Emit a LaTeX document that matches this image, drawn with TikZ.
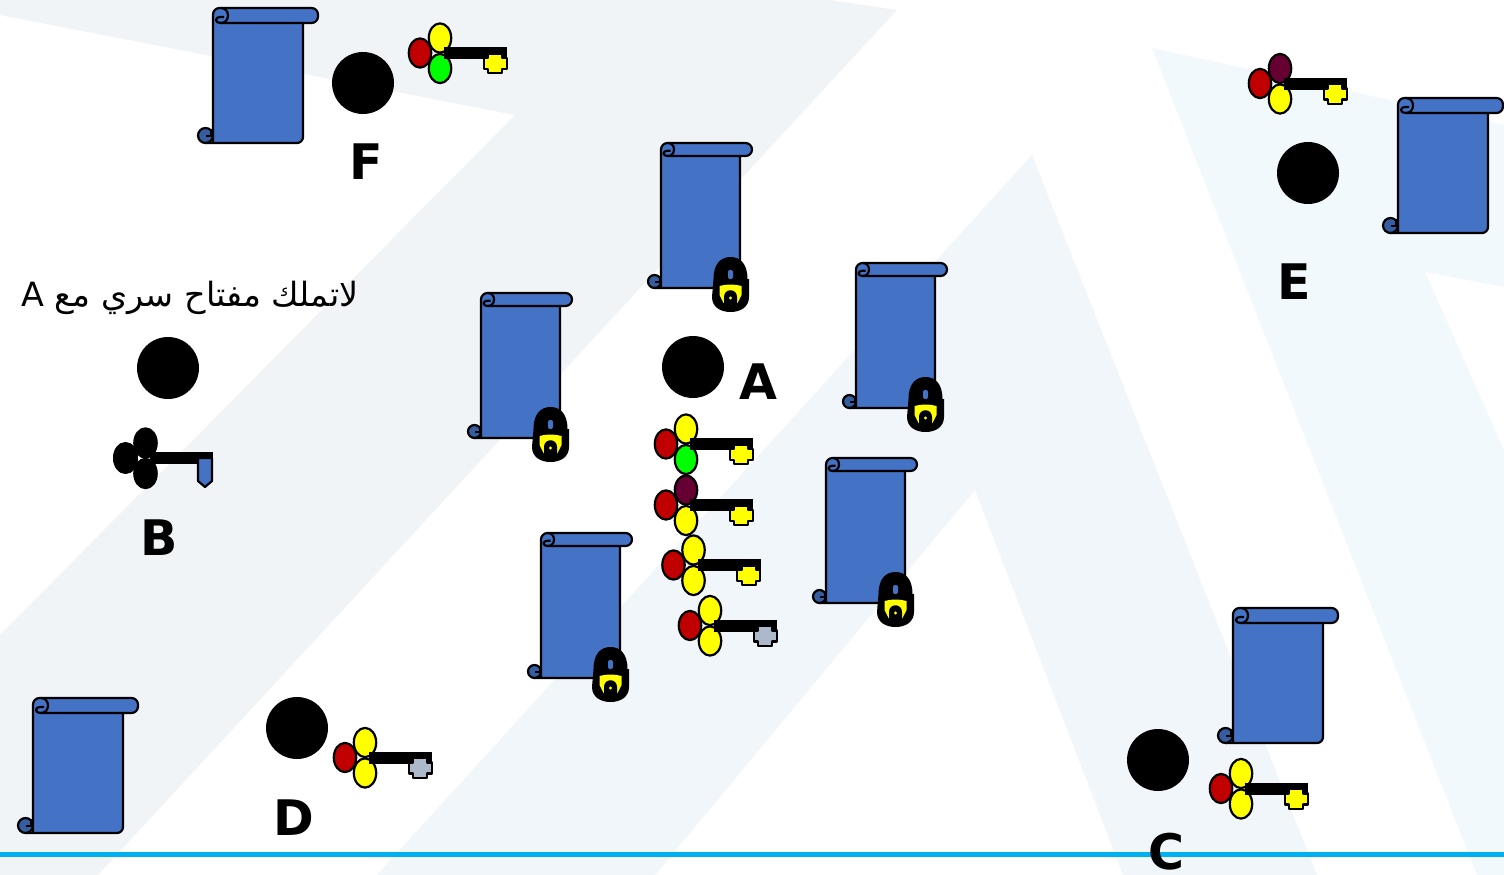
\documentclass[tikz,border=0pt]{standalone}
\usepackage{fontspec}
\setmainfont{DejaVu Sans}
\newfontfamily\arabicfont[Script=Arabic]{DejaVu Sans}
\TeXXeTstate=1

\definecolor{paperblue}{HTML}{4472C4}
\definecolor{curlblue}{HTML}{355D9F}
\definecolor{keyred}{HTML}{C00000}
\definecolor{keygreen}{HTML}{00FF00}
\definecolor{keyyellow}{HTML}{FFFF00}
\definecolor{keyplum}{HTML}{660033}
\definecolor{keygray}{HTML}{ADB9CA}
\definecolor{lineblue}{HTML}{00B0F0}
\definecolor{backgray}{HTML}{F1F4F7}
\definecolor{backblue}{HTML}{F1F6FA}
\definecolor{backcyan}{HTML}{F2F9FC}

\tikzset{
  inkline/.style={draw=black,line width=2.2pt,line join=round},
  blackdot/.style={fill=black},
  letter/.style={font=\fontsize{49}{49}\selectfont\bfseries,text=black,inner sep=0pt},
}

% left, top, width, height, roll overhang, roll height
\newcommand{\scrollpaper}[6]{
\begin{scope}[shift={(#1,#2)}]
\draw[inkline,fill=curlblue] (-#6/2,#4-#6/2) circle (#6/2);
\begin{scope}[shift={(0,#4-#6)},scale=#6/15]
\draw[inkline] (-1.5,1) -- (-1.5,8) -- (-7,8);
\end{scope}
\draw[inkline,fill=paperblue] (#3,#6) [rounded corners=6pt] -- (#3,#4) [sharp corners] -- (-#6/2,#4) -- (0,#4) -- (0,#6);
\draw[inkline,fill=paperblue] (0,#6) [rounded corners=6.5pt] -- (0,0) -- (#3+#5,0) -- (#3+#5,#6) [sharp corners] -- (#6/2,#6);
\begin{scope}[scale=#6/15]
\draw[inkline] (8,0) .. controls (12,0) and (15,3) .. (15,7.5) .. controls (15,12) and (12,15) .. (8,15) .. controls (5,15) and (3,14) .. (3,12) .. controls (3,10) and (5,9) .. (7,9) -- (11,9);
\end{scope}
\end{scope}
}

% centre x, top y
\newcommand{\lockmark}[2]{
\begin{scope}[shift={(#1,#2)}]
\fill[black] (-17,22) .. controls (-17,6) and (-9,0) .. (0,0) .. controls (9,0) and (17,6) .. (17,22) -- (18.5,22) -- (18.5,40) .. controls (18.5,50) and (10,55) .. (0,55) .. controls (-10,55) and (-18.5,50) .. (-18.5,40) -- cycle;
\fill[paperblue,rounded corners=2pt] (-2.5,13) rectangle (2.5,22);
\fill[keyyellow] (-11,29) .. controls (-4,27) and (4,27) .. (11,29) -- (11,38) -- (7,46) -- (-7,46) -- (-11,38) -- cycle;
\fill[black] (-6.5,47) -- (-6.5,40) .. controls (-6.5,31) and (6.5,31) .. (6.5,40) -- (6.5,47) -- cycle;
\fill[keyyellow] (0,41) circle (1.6);
\end{scope}
}

% red centre x, y, top colour, bottom colour
\newcommand{\keyhead}[4]{
\begin{scope}[shift={(#1,#2)}]
\draw[inkline,fill=#3] (20,-15) ellipse (11.2 and 14.6);
\draw[inkline,fill=#4] (20,15.5) ellipse (11.2 and 14.6);
\draw[inkline,fill=keyred] (0,0) ellipse (11.2 and 14.6);
\fill[black] (24,-6) rectangle (87,6);
\end{scope}
}

% red centre x, y, bit colour
\newcommand{\keybit}[3]{
\begin{scope}[shift={(#1+75.2,#2+10.5)}]
\draw[inkline,fill=#3] (-7,-9.8) -- (7,-9.8) -- (7,-5.5) -- (11.5,-5.5) -- (11.5,5.5) -- (7,5.5) -- (7,9.8) -- (-7,9.8) -- (-7,5.5) -- (-11.5,5.5) -- (-11.5,-5.5) -- (-7,-5.5) -- cycle;
\end{scope}
}

\begin{document}
\begin{tikzpicture}[x=1pt,y=-1pt]
\useasboundingbox (0,0) rectangle (1504,875);
\fill[white] (0,0) rectangle (1504,875);

%background
\fill[backgray] (0,0) -- (830,0) -- (897,10) -- (98,875) -- (0,875) -- (0,635) -- (515,115) -- (0,15) -- cycle;
\fill[backblue] (1032,155) -- (1317,875) -- (1123,875) -- (975,490) -- (655,875) -- (377,875) -- cycle;
\fill[backcyan] (1152,48) -- (1504,125) -- (1504,287) -- (1425,272) -- (1504,450) -- (1504,875) -- (1477,875) -- cycle;

\draw[lineblue,line width=5pt] (0,854.5) -- (1504,854.5);

%scrolls
\scrollpaper{213}{8}{90}{135}{15}{15}
\scrollpaper{1398}{98}{90}{135}{15}{15}
\scrollpaper{1233}{608}{90}{135}{15}{15}
\scrollpaper{33}{698}{90}{135}{15}{15}
\scrollpaper{661}{143}{79}{145}{12}{13}
\scrollpaper{856}{263}{79}{145}{12}{13}
\scrollpaper{481}{293}{79}{145}{12}{13}
\scrollpaper{826}{458}{79}{145}{12}{13}
\scrollpaper{541}{533}{79}{145}{12}{13}

%locks
\lockmark{730.5}{257}
\lockmark{925.5}{377}
\lockmark{550.5}{407}
\lockmark{895.5}{572}
\lockmark{610.5}{647}

%people
\fill[blackdot] (363,83) circle (31);
\fill[blackdot] (1308,173) circle (31);
\fill[blackdot] (693,367) circle (31);
\fill[blackdot] (168,368) circle (31);
\fill[blackdot] (297,728) circle (31);
\fill[blackdot] (1158,760) circle (31);

%keys
\keyhead{666}{444}{keyyellow}{keygreen}
\keybit{666}{444}{keyyellow}
\keyhead{666}{505}{keyplum}{keyyellow}
\keybit{666}{505}{keyyellow}
\keyhead{673.5}{565}{keyyellow}{keyyellow}
\keybit{673.5}{565}{keyyellow}
\keyhead{690}{625.5}{keyyellow}{keyyellow}
\keybit{690}{625.5}{keygray}
\keyhead{420}{53}{keyyellow}{keygreen}
\keybit{420}{53}{keyyellow}
\keyhead{1260}{83.5}{keyplum}{keyyellow}
\keybit{1260}{83.5}{keyyellow}
\keyhead{1221}{788.5}{keyyellow}{keyyellow}
\keybit{1221}{788.5}{keyyellow}
\keyhead{345}{757.5}{keyyellow}{keyyellow}
\keybit{345}{757.5}{keygray}

%key without a colour
\keyhead{125.5}{458}{black}{black}
\fill[black] (125.5,458) ellipse (12.5 and 16);
\draw[inkline,fill=paperblue] (198,458) -- (212,458) -- (212,481) -- (205,487) -- (198,481) -- cycle;

%names
\node[letter] (nameF) at (366,162) {F};
\node[letter] (nameE) at (1294.5,282) {E};
\node[letter] (nameA) at (758,382) {A};
\node[letter] (nameB) at (159,538) {B};
\node[letter] (nameD) at (293.5,818) {D};
\node[letter] (nameC) at (1166,852) {C};

\node[inner sep=0pt,font=\fontsize{33.4}{34}\selectfont] (note) at (190,298) {\arabicfont\beginR لاتملك مفتاح سري مع \beginL A\endL\endR};
\end{tikzpicture}
\end{document}
